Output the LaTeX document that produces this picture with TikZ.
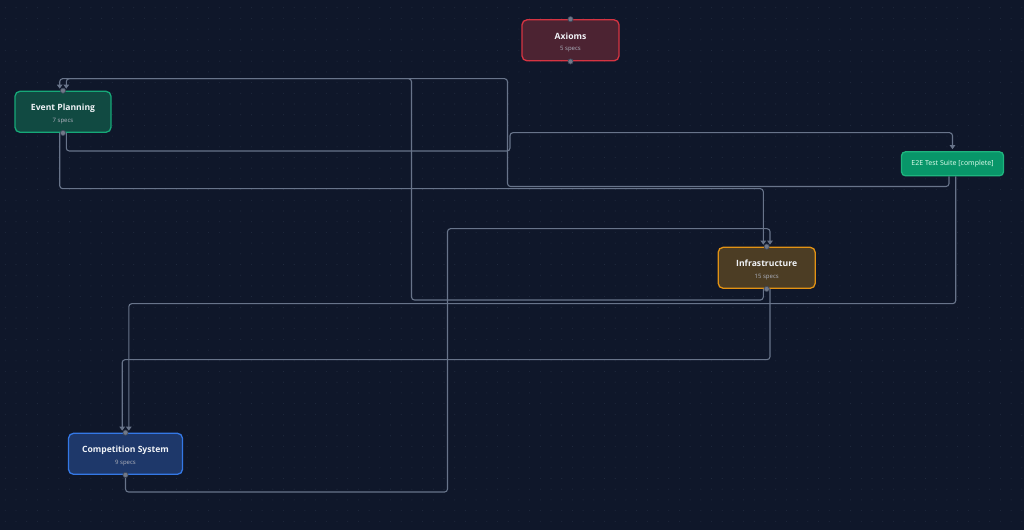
\documentclass[tikz,border=0pt]{standalone}
\usepackage{fontspec}
\setmainfont{Noto Sans}
\newfontfamily\headfont{Open Sans}
\usetikzlibrary{arrows.meta}
\definecolor{canvas}{RGB}{15,23,42}
\definecolor{dotcol}{RGB}{32,42,62}
\definecolor{wirecol}{RGB}{104,116,138}
\definecolor{handlecol}{RGB}{112,120,136}
\definecolor{handlerim}{RGB}{60,70,90}
\definecolor{titletext}{RGB}{240,243,247}
\definecolor{subtext}{RGB}{168,172,184}
\definecolor{rimaxioms}{RGB}{214,52,66}
\definecolor{bodyaxioms}{RGB}{76,35,50}
\definecolor{rimevent}{RGB}{22,168,120}
\definecolor{bodyevent}{RGB}{17,74,66}
\definecolor{riminfra}{RGB}{226,146,20}
\definecolor{bodyinfra}{RGB}{76,61,36}
\definecolor{rimcomp}{RGB}{52,120,230}
\definecolor{bodycomp}{RGB}{30,56,106}
\definecolor{rimetest}{RGB}{30,180,126}
\definecolor{bodyetest}{RGB}{8,150,105}
\definecolor{etesttext}{RGB}{214,250,232}
\begin{document}
\begin{tikzpicture}[x=1pt,y=-1pt]
\tikzstyle{module}=[draw,rounded corners=5pt,line width=1.3pt,minimum width=97pt,minimum height=41pt]
\tikzstyle{heading}=[anchor=base,inner sep=0pt,text=titletext,font=\headfont\bfseries\fontsize{8.6}{10}\selectfont]
\tikzstyle{count}=[anchor=base,inner sep=0pt,text=subtext,font=\fontsize{6}{7}\selectfont]
\tikzstyle{suitebox}=[module,rounded corners=4pt,minimum width=102pt,minimum height=24pt,inner xsep=4pt,text=etesttext,font=\fontsize{7}{8}\selectfont]
\tikzstyle{wire}=[draw=wirecol,line width=1.1pt,rounded corners=3pt,-{Triangle[width=5.5pt,length=4pt]},shorten >=2pt]
\tikzstyle{handle}=[fill=handlecol,draw=handlerim,line width=0.6pt]
  \fill[canvas] (0,0) rectangle (1024,530);
  \useasboundingbox (0,0) rectangle (1024,530);
  \foreach \x in {5.3,16,...,1024}
    \foreach \y in {7.7,18.4,...,530}
      \fill[dotcol] (\x,\y) circle (0.55);
  \foreach \place/\name/\breadth/\title/\specs in {{(570.5,40.3)/axioms/97/Axioms/5},
                                                  {(63,111.8)/event/96/Event Planning/7},
                                                  {(766.7,267.8)/infra/97/Infrastructure/15},
                                                  {(125.5,453.8)/comp/114/Competition System/9}}
  {
    \node[module,minimum width=\breadth pt,draw=rim\name,fill=body\name] (\name) at \place {};
    \node[heading] (\name title) at ([yshift=1.2pt]\name.center) {\title};
    \node[count] (\name count) at ([yshift=-10.2pt]\name.center) {\specs\ specs};
  }
  \node[suitebox,draw=rimetest,fill=bodyetest] (etest) at (952.5,163.8) {E2E Test Suite [complete]};
  \path[wire] ([xshift=-3.3pt]event.south) |- ([xshift=-3.4pt,yshift=58pt]infra.north) -- ([xshift=-3.4pt]infra.north);
  \path[wire] ([xshift=3.3pt]event.south) |- (510,151) |- ([yshift=18.5pt]etest.north) -- (etest.north);
  \path[wire] ([xshift=-3.5pt]etest.south) |- (507.5,186.5) |- ([xshift=3.3pt,yshift=12pt]event.north) -- ([xshift=3.3pt]event.north);
  \path[wire] ([xshift=-3.4pt]infra.south) |- (411.5,300) |- ([xshift=-3.3pt,yshift=12pt]event.north) -- ([xshift=-3.3pt]event.north);
  \path[wire] ([xshift=3.2pt]etest.south) |- ([xshift=3.3pt,yshift=129pt]comp.north) -- ([xshift=3.3pt]comp.north);
  \path[wire] ([xshift=3.3pt]infra.south) |- ([xshift=-3.3pt,yshift=73pt]comp.north) -- ([xshift=-3.3pt]comp.north);
  \path[wire] (comp.south) |- (447.5,492) |- ([xshift=3.3pt,yshift=18pt]infra.north) -- ([xshift=3.3pt]infra.north);
  \foreach \name in {axioms,event,infra,comp}
    \path[handle] (\name.north) circle (2.6) (\name.south) circle (2.6);
\end{tikzpicture}
\end{document}
